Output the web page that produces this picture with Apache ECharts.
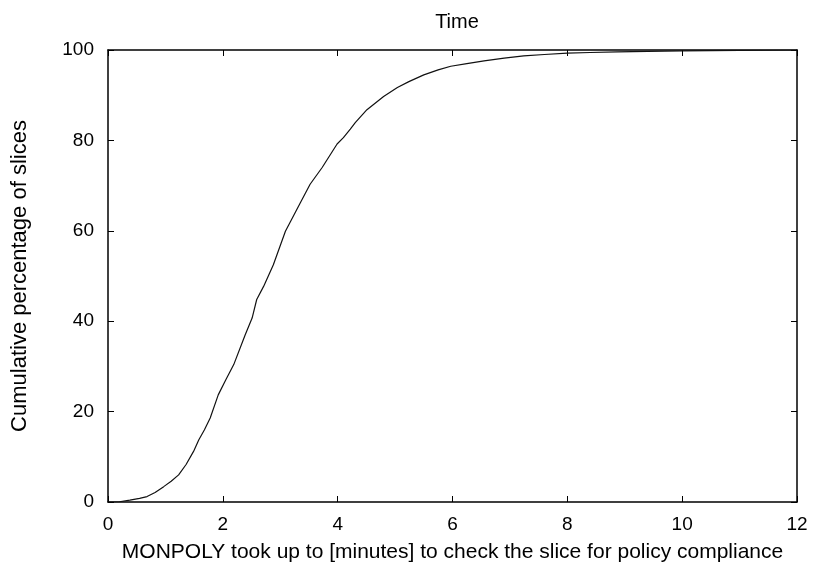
<!DOCTYPE html>
<html>
<head>
<meta charset="utf-8">
<script src="https://cdn.jsdelivr.net/npm/echarts@6/dist/echarts.min.js"></script>
<style>
  html, body { margin: 0; padding: 0; background: #fff; }
  #chart { width: 815px; height: 571px; }
</style>
</head>
<body>
<div id="chart"></div>
<script>
// minutes (x) and cumulative percentage (y)
var minutes = [0, 0.2, 0.38, 0.55, 0.68, 0.82, 0.97, 1.1, 1.23, 1.36, 1.49, 1.58, 1.68, 1.78, 1.92, 2.05, 2.19, 2.39, 2.51, 2.59, 2.71, 2.88, 3.09, 3.35, 3.52, 3.73, 3.99, 4.1, 4.22, 4.31, 4.51, 4.8, 5.04, 5.24, 5.5, 5.75, 5.97, 6.25, 6.55, 6.9, 7.24, 7.6, 8.0, 8.4, 8.87, 9.4, 10.0, 11.0, 12.0];
var percent = [0, 0.05, 0.4, 0.8, 1.2, 2.1, 3.4, 4.6, 6.0, 8.3, 11.2, 13.7, 16.0, 18.6, 23.7, 27.0, 30.4, 37.0, 40.7, 44.8, 47.7, 52.5, 59.9, 66.2, 70.3, 74.0, 79.2, 80.6, 82.5, 84.0, 86.8, 89.7, 91.7, 93.0, 94.5, 95.6, 96.4, 97.0, 97.6, 98.2, 98.7, 99.0, 99.3, 99.45, 99.6, 99.7, 99.8, 99.9, 100];
var xTicks = [0, 2, 4, 6, 8, 10, 12];
var yTicks = [0, 20, 40, 60, 80, 100];

var points = minutes.map(function (m, i) { return [m, percent[i]]; });

var chart = echarts.init(document.getElementById('chart'));

var font = 'Liberation Sans, Arial, sans-serif';
var axisLine = { show: true, onZero: false, lineStyle: { color: '#000', width: 1.5 } };
var tick = { show: true, inside: true, length: 6, lineStyle: { color: '#000', width: 1 } };

var option = {
    animation: false,
    title: {
        text: 'Time',
        left: 452,
        textAlign: 'center',
        top: 7,
        textStyle: { fontFamily: font, fontSize: 20, fontWeight: 'normal', color: '#000' }
    },
    grid: { left: 108, right: 18, top: 50, bottom: 69 },
    xAxis: [
        {
            type: 'value',
            min: xTicks[0],
            max: xTicks[xTicks.length - 1],
            interval: 2,
            position: 'bottom',
            name: 'MONPOLY took up to [minutes] to check the slice for policy compliance',
            nameLocation: 'middle',
            nameGap: 40,
            nameTextStyle: { fontFamily: font, fontSize: 21, color: '#000' },
            axisLine: axisLine,
            axisTick: tick,
            axisLabel: { fontFamily: font, fontSize: 19, color: '#000', margin: 13 },
            splitLine: { show: false }
        },
        {
            type: 'value',
            min: xTicks[0],
            max: xTicks[xTicks.length - 1],
            interval: 2,
            position: 'top',
            axisLine: axisLine,
            axisTick: tick,
            axisLabel: { show: false },
            splitLine: { show: false }
        }
    ],
    yAxis: [
        {
            type: 'value',
            min: yTicks[0],
            max: yTicks[yTicks.length - 1],
            interval: 20,
            position: 'left',
            name: 'Cumulative percentage of slices',
            nameLocation: 'middle',
            nameRotate: 90,
            nameGap: 77,
            nameTextStyle: { fontFamily: font, fontSize: 22, color: '#000' },
            axisLine: axisLine,
            axisTick: tick,
            axisLabel: { fontFamily: font, fontSize: 19, color: '#000', margin: 14 },
            splitLine: { show: false }
        },
        {
            type: 'value',
            min: yTicks[0],
            max: yTicks[yTicks.length - 1],
            interval: 20,
            position: 'right',
            axisLine: axisLine,
            axisTick: tick,
            axisLabel: { show: false },
            splitLine: { show: false }
        }
    ],
    series: [
        {
            type: 'line',
            data: points,
            showSymbol: false,
            smooth: false,
            lineStyle: { color: '#111', width: 1.2 }
        }
    ]
};

chart.setOption(option);
</script>
</body>
</html>
